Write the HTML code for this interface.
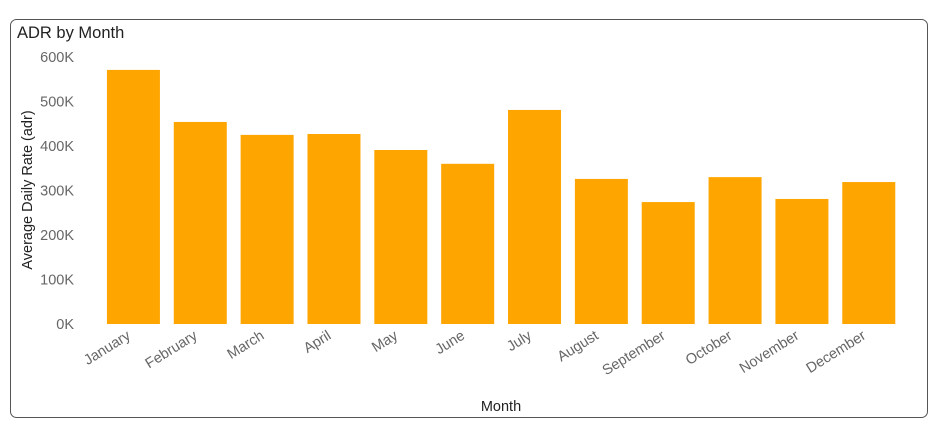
<!DOCTYPE html>
<html><head><meta charset="utf-8"><style>
body{margin:0;background:#fff;font-family:"Liberation Sans",sans-serif}
svg{display:block}
</style></head><body>
<svg width="938" height="438">
<rect x="10.5" y="19.5" width="917" height="398" rx="6" fill="#fff" stroke="#555"/>
<text x="17" y="38" font-size="16.5" fill="#222">ADR by Month</text>
<text transform="translate(32,190) rotate(-90)" text-anchor="middle" font-size="14.5" fill="#222">Average Daily Rate (adr)</text>
<text x="501" y="411" text-anchor="middle" font-size="14.5" fill="#222">Month</text>
<g id="yticks"></g><g id="bars"></g><g id="xlabels"></g>
</svg>
<script>
const months=["January","February","March","April","May","June","July","August","September","October","November","December"];
const adrValues=[571000,454000,425000,427000,391000,360000,481000,326000,274000,330000,281000,319000];
const yTicks=[0,100000,200000,300000,400000,500000,600000];
const yTickLabels=["0K","100K","200K","300K","400K","500K","600K"];
const NS="http://www.w3.org/2000/svg";
const y0=324,yPerUnit=44.5/100000;
const y=v=>y0-v*yPerUnit;
const left=100,step=66.85,bw=53;
const x=i=>left+i*step+(step-bw)/2;
const yt=document.getElementById('yticks');
yTicks.forEach((t,i)=>{const e=document.createElementNS(NS,'text');
e.setAttribute('x',74);e.setAttribute('y',y(t)+5);e.setAttribute('text-anchor','end');
e.setAttribute('font-size','14.5');e.setAttribute('fill','#666');e.textContent=yTickLabels[i];


yt.appendChild(e);});
const bg=document.getElementById('bars'),xl=document.getElementById('xlabels');
adrValues.forEach((v,i)=>{const r=document.createElementNS(NS,'rect');
r.setAttribute('x',x(i));r.setAttribute('y',y(v));r.setAttribute('width',bw);r.setAttribute('height',y0-y(v));r.setAttribute('fill','#FFA500');


bg.appendChild(r);
const t=document.createElementNS(NS,'text');const cx=x(i)+bw/2-2;
t.setAttribute('transform','translate('+cx+',338) rotate(-32)');t.setAttribute('text-anchor','end');
t.setAttribute('font-size','14.5');t.setAttribute('fill','#666');t.textContent=months[i];


xl.appendChild(t);});
</script>
</body></html>
